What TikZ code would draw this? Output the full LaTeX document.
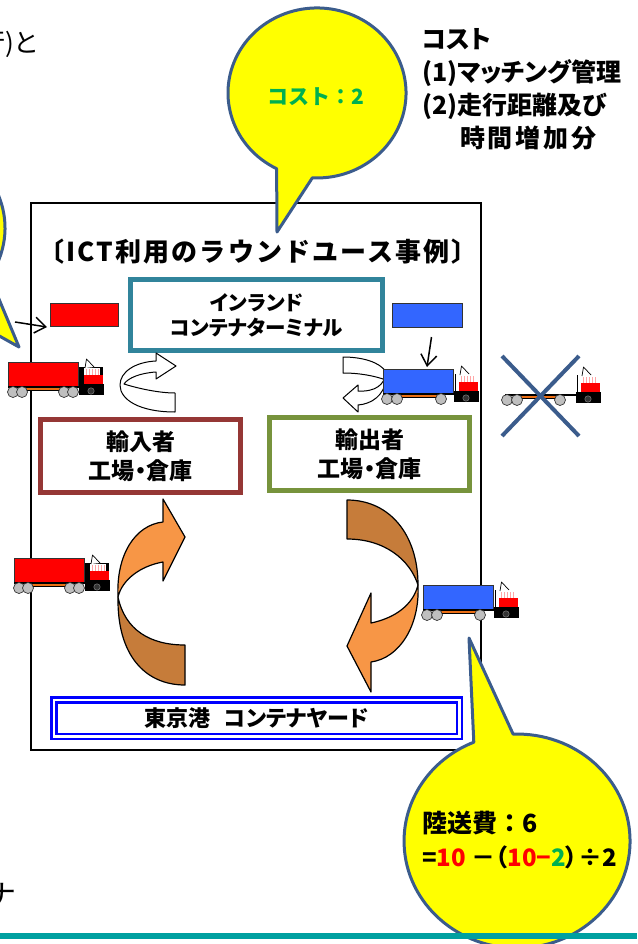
\documentclass[tikz,border=0pt]{standalone}
\usepackage{fontspec}
\setmainfont{Noto Sans CJK JP}[RawFeature=+palt]
\newfontfamily\fulljp{Noto Sans CJK JP}
\usetikzlibrary{arrows.meta}

\definecolor{bubblefill}{RGB}{255,255,0}
\definecolor{bubbleedge}{RGB}{59,92,140}
\definecolor{termedge}{RGB}{49,132,155}
\definecolor{impedge}{RGB}{149,55,53}
\definecolor{expedge}{RGB}{119,147,60}
\definecolor{orangelight}{RGB}{247,150,70}
\definecolor{orangedark}{RGB}{198,124,58}
\definecolor{contblue}{RGB}{51,102,255}
\definecolor{contred}{RGB}{255,0,0}
\definecolor{chassis}{RGB}{235,110,20}
\definecolor{costgreen}{RGB}{0,176,80}
\definecolor{rulerteal}{RGB}{0,160,160}
\definecolor{portblue}{RGB}{0,0,255}

% truck: #1,#2 = top-left of the trailer; #3 = style of the container;
% #4 = colour behind the cab; #5 = trailer wheel positions
\newcommand{\drawtruck}[5]{%
  \begin{scope}[shift={(#1,#2)}]
    \path[#3, line width=0.8pt] (0,0) rectangle (70,24);
    \fill[black] (0,23.5) rectangle (72,25.5);
    \draw[fill=chassis, line width=0.4pt] (11,25.5) rectangle (57,28);
    \fill[#4] (71,5) rectangle (95,23);
    \draw[line width=0.8pt] (72.5,5) -- (72.5,23);
    \fill[white] (76,6) rectangle (92,13);
    \foreach \s in {78,81,84,87,90} \fill[red!35] (\s,7) rectangle ++(1.2,6);
    \fill[contred] (76,13) rectangle (95,22);
    \draw[fill=white, line width=0.7pt, line join=round] (77,6) -- (78.5,-3) -- (86,5);
    \fill[black] (71,22) rectangle (96,33);
    \foreach \w in {#5} \draw[fill=gray!50, draw=black!80, line width=0.7pt] (\w,30) circle (5.5);
    \draw[fill=gray!40!black, draw=gray, line width=0.5pt] (83,29) circle (3.2);
  \end{scope}}

\begin{document}
\begin{tikzpicture}[x=1pt,y=-1pt,
  bubble/.style={fill=bubblefill, draw=bubbleedge, line width=3pt, line join=round},
  labelbox/.style={draw, line width=5pt, inner sep=0pt, align=center,
    font=\fontsize{23}{29}\selectfont\bfseries},
  container/.style={draw=black!80, line width=1pt, inner sep=0pt},
  pointer/.style={-{Straight Barb[length=11pt,width=16pt]}, line width=1.5pt},
  ribbon/.style={fill=white, draw=black, line width=1pt, line join=round},
  bigarrow/.style={draw=black, line width=1.2pt, line join=round},
  costline/.style={anchor=base west, inner sep=0pt, font=\fontsize{25}{30}\selectfont\bfseries},
  xmark/.style={draw=bubbleedge, line width=4pt}]

\useasboundingbox (0,0) rectangle (637,944);
\clip (0,0) rectangle (637,944);

% text running in from the left edge
\node[anchor=base east, inner sep=0pt, font=\fontsize{26}{30}\selectfont] (lead) at (37,53) {行)と};

% outer frame of the example
\draw[line width=1.2pt] (31,203) rectangle (481,750);
\node[font=\fulljp\fontsize{26}{30}\selectfont\bfseries\addfontfeature{LetterSpace=8}, inner sep=0pt]
  (title) at (258,252) {〔ICT利用のラウンドユース事例〕};

% places
\node[labelbox, draw=termedge, minimum width=252pt, minimum height=71pt,
      font=\fontsize{20.5}{25}\selectfont\bfseries] (term) at (256.5,315) {インランド\\コンテナターミナル};
\node[labelbox, draw=impedge, minimum width=200pt, minimum height=73pt] (imp) at (140.5,456) {輸入者\\工場・倉庫};
\node[labelbox, draw=expedge, minimum width=200pt, minimum height=73pt] (exp) at (369.5,454) {輸出者\\工場・倉庫};
\node[draw=portblue, line width=2.5pt, double=white, double distance=2.5pt, inner sep=0pt,
      minimum width=405.5pt, minimum height=36.5pt, font=\fontsize{22}{26}\selectfont\bfseries]
      (port) at (256.5,718) {東京港\hspace{14pt}コンテナヤード};

% loose containers
\node[container, fill=contred, minimum width=68pt, minimum height=23pt] (redbox) at (84.5,315) {};
\node[container, fill=contblue, minimum width=70pt, minimum height=24pt] (bluebox) at (427.5,315.5) {};

% turn-around arrows at the terminal
\path[ribbon] (175,412) .. controls (140,412) and (120,400) .. (120,385)
  .. controls (120,372) and (135,362) .. (156,361) -- (156,353) -- (176,366) -- (156,379) -- (156,372)
  .. controls (140,373) and (128,378) .. (124,384)
  .. controls (140,389) and (160,393) .. (175,393) -- cycle;
\path[ribbon] (343,357) .. controls (362,357) and (380,362) .. (386,372)
  .. controls (385,385) and (375,392) .. (358,391) -- (358,385) -- (343,398) -- (358,412) -- (358,405)
  .. controls (372,404) and (384,395) .. (386,380)
  .. controls (375,376) and (360,373) .. (343,373) -- cycle;

% port <-> importer
\path[bigarrow, fill=orangedark] (118,597) .. controls (117,655) and (145,685) .. (185,685) -- (185,645)
  .. controls (150,645) and (125,630) .. (118,597) -- cycle;
\path[bigarrow, fill=orangelight] (118,597) .. controls (116,555) and (135,525) .. (163,522)
  -- (163,499) -- (185,537) -- (163,581) -- (163,562)
  .. controls (140,566) and (122,580) .. (118,597) -- cycle;
% exporter <-> port
\path[bigarrow, fill=orangedark] (347,500) .. controls (390,500) and (418,535) .. (418,585)
  .. controls (410,560) and (385,539) .. (347,539) -- cycle;
\path[bigarrow, fill=orangelight] (418,585) .. controls (420,625) and (400,658) .. (371,662)
  -- (371,692) -- (347,646) -- (371,593) -- (371,623)
  .. controls (395,618) and (413,605) .. (418,585) -- cycle;

% trucks
\drawtruck{8}{362}{fill=contred,draw=black!80}{black}{5,14,56,65}
\drawtruck{383}{369}{fill=contblue,draw=black!80}{white}{4,14,58}
\drawtruck{505}{370}{draw=none}{white}{2,12,55}
\drawtruck{14}{558}{fill=contred,draw=black!80}{black}{5,14,56,65}
\drawtruck{423}{585}{fill=contblue,draw=black!80}{white}{4,14,57}

% the empty return trip that is no longer needed
\draw[xmark] (502,356) -- (579,436);
\draw[xmark] (579,356) -- (502,436);

% container moves
\coordinate (redfrom) at (15,322);
\draw[pointer] (redfrom) -- ([shift={(-3,0)}]redbox.south west);
\coordinate (bluetop) at (427,367);
\draw[pointer] ([shift={(4,9)}]bluebox.south) -- (bluetop);

% speech bubbles
\path[bubble] (-50.9,307.9) arc[start angle=70, end angle=395, x radius=85, y radius=85] -- (19,347) -- cycle;
\path[bubble] (276.6,168.7) arc[start angle=117, end angle=453, x radius=89, y radius=85] -- (277,232) -- cycle;
\node[text=costgreen, font=\fulljp\fontsize{21}{25}\selectfont\bfseries, inner sep=0pt] (costtag) at (316,97) {コスト：2};
\path[bubble] (513.1,734.1) arc[start angle=268, end angle=607.5, x radius=113, y radius=107] -- (469,638) -- cycle;
\node[costline, font=\fulljp\fontsize{25}{30}\selectfont\bfseries] (fare1) at (422,832.5) {陸送費：6};
\node[costline, font=\fontsize{24}{30}\selectfont\bfseries] (fare2) at (422,866) {=\textcolor{red}{10} －（\textcolor{red}{10−}\textcolor{costgreen}{2}）÷2};

% cost notes
\node[costline] (cost0) at (422,48.5) {コスト};
\node[costline] (cost1) at (422,81.5) {(1)マッチング管理};
\node[costline] (cost2) at (422,114.5) {(2)走行距離及び};
\node[costline, font=\fontsize{25}{30}\selectfont\bfseries\addfontfeature{LetterSpace=11}] (cost3) at (460,147.5) {時間増加分};

% text running in at the bottom and the rule under it
\node[anchor=base west, inner sep=0pt, font=\fontsize{30}{34}\selectfont] (tail) at (-13,906) {ナ};
\fill[rulerteal] (0,933) rectangle (637,939);
\end{tikzpicture}
\end{document}
